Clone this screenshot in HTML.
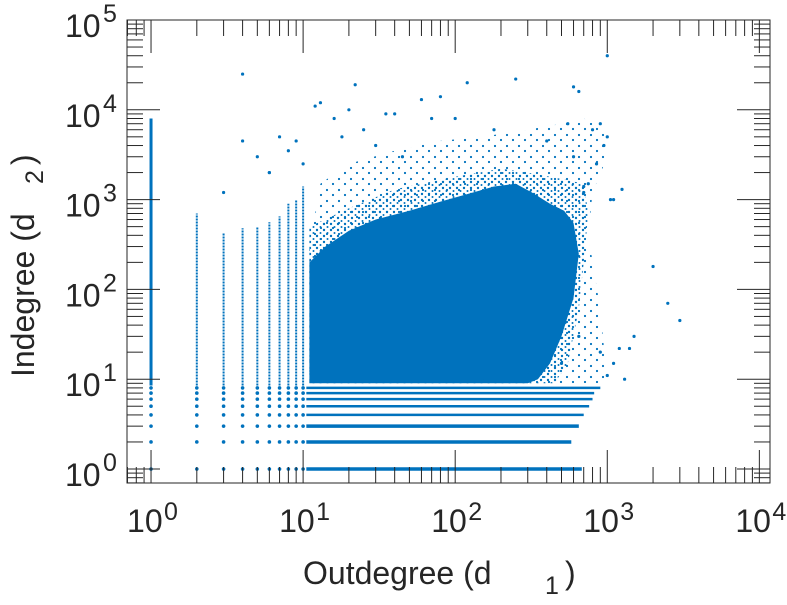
<!DOCTYPE html>
<html><head><meta charset="utf-8"><style>
body{margin:0;background:#fff;}
svg text{font-family:"Liberation Sans",sans-serif;fill:#262626;}
</style></head><body>
<svg id="chart" width="787" height="600" viewBox="0 0 787 600">
<defs>
<pattern id="halo" width="7" height="6" patternUnits="userSpaceOnUse">
<circle cx="2" cy="2" r="1.2" fill="#0072bd"/><circle cx="5.5" cy="5" r="1" fill="#0072bd"/>
</pattern>
<pattern id="halo2" width="12" height="11" patternUnits="userSpaceOnUse">
<circle cx="3" cy="3" r="1.1" fill="#0072bd"/><circle cx="9" cy="8" r="1.1" fill="#0072bd"/>
</pattern>
</defs>
</svg>
<script>
const colX = [1,2,3,4,5,6,7,8,9,10];
const colYmax = [8000,700,420,480,500,560,650,900,1000,1400];
const rowY = [1,2,3,4,5,6,7,8];
const rowXmax = [680,580,650,700,760,800,820,900];
const outerX = [11,13,20,40,80,150,300,500,700,1000,1000,800,750,900,1000,800,600,11];
const outerY = [300,1500,2500,3500,4500,5000,6000,7000,8000,6000,3000,1200,400,60,9,9,9,9];
const haloX = [11,11,20,40,100,200,300,500,700,750,700,650,550,450,11];
const haloY = [9,500,800,1300,1800,2200,2000,1700,1500,700,200,60,15,9,9];
const blobX = [11,11,14,20,30,50,80,120,180,250,320,420,520,600,650,600,500,420,350,300];
const blobY = [9,200,300,450,600,750,950,1150,1400,1500,1200,900,750,550,250,80,30,15,10,9];
const outX = [4,22,13,12,20,35,60,80,120,250,600,900,1000,800,950,750,700,1100,1300,2000,3000,2500,1500,1400,1200,1000,900,500,300,200,150,45,30,25,8,7,9,10,16,18,40,70,100,180,400,550,650,5,6,1000,1050,850,600,700,1250,1100,650,3,4,6];
const outY = [25000,19000,12000,11000,10000,9000,13000,14000,20000,22000,18000,7000,5000,6000,4000,1500,1400,1000,10,180,45,70,30,22,22,11,20,15,12,14,10,3000,4000,6000,3500,5000,4500,2500,8000,5000,9000,8000,8000,6000,4500,7000,16000,3000,2000,40000,1000,2500,3000,1200,1300,15,30,1200,4500,2000];
const xTickLabels = ["0","1","2","3","4"];
const yTickLabels = ["0","1","2","3","4","5"];

const svg = document.getElementById('chart');
const NS = 'http://www.w3.org/2000/svg';
const L=127, R=770, T=20, B=483;
const xmin=-0.158, xmax=4.07, ymin=-0.156, ymax=5;
const sx = v => L + (Math.log10(v)-xmin)/(xmax-xmin)*(R-L);
const sy = v => B - (Math.log10(v)-ymin)/(ymax-ymin)*(B-T);
const C = '#0072bd';
function mk(tag, attrs, parent){const e=document.createElementNS(NS,tag);for(const k in attrs)e.setAttribute(k,attrs[k]);(parent||svg).appendChild(e);return e;}
function poly(xs,ys){return xs.map((x,i)=>(i?'L':'M')+sx(x).toFixed(1)+','+sy(ys[i]).toFixed(1)).join(' ')+'Z';}

const outer = mk('path',{d:poly(outerX,outerY),fill:'url(#halo2)'});


const halo = mk('path',{d:poly(haloX,haloY),fill:'url(#halo)'});


const blob = mk('path',{d:poly(blobX,blobY),fill:C});


colX.forEach((x,i)=>{
  const l = mk('line',{x1:sx(x),x2:sx(x),y1:sy(8.5),y2:sy(colYmax[i]),stroke:C,'stroke-width':i==0?3:2,'stroke-dasharray':i==0?'none':'2,1'});
  
  
  rowY.forEach(y=>{
    const c = mk('circle',{cx:sx(x),cy:sy(y),r:1.8,fill:C});
    
    
  });
});
rowY.forEach((y,i)=>{
  const l = mk('line',{x1:sx(10.5),x2:sx(rowXmax[i]),y1:sy(y),y2:sy(y),stroke:C,'stroke-width':i<3?3.5:2.5});
  
  
});
outX.forEach((x,i)=>{
  const c = mk('circle',{cx:sx(x),cy:sy(outY[i]),r:1.6,fill:C});
  
  
});
const box = mk('rect',{x:L,y:T,width:R-L,height:B-T,fill:'none',stroke:'#262626','stroke-width':1});


const tk = {stroke:'#262626','stroke-width':1};
for(let e=-1;e<=4;e++){for(let m=1;m<10;m++){const v=m*Math.pow(10,e);const lv=Math.log10(v);
  if(lv>=xmin&&lv<=xmax){const X=sx(v),len=m==1?33:16;
    const a=mk('line',Object.assign({x1:X,x2:X,y1:B,y2:B-len},tk));
    const b=mk('line',Object.assign({x1:X,x2:X,y1:T,y2:T+len},tk));}
  if(lv>=ymin&&lv<=ymax){const Y=sy(v),len=m==1?33:16;
    const a=mk('line',Object.assign({x1:L,x2:L+len,y1:Y,y2:Y},tk));
    const b=mk('line',Object.assign({x1:R,x2:R-len,y1:Y,y2:Y},tk));}
}}
xTickLabels.forEach(s=>{
  const X=sx(Math.pow(10,+s));
  const t=mk('text',{x:X-24,y:532,'font-size':32});
  t.textContent='10';
  
  const u=mk('text',{x:X+13,y:520,'font-size':25});u.textContent=s;
  
});
yTickLabels.forEach(s=>{
  const Y=sy(Math.pow(10,+s));
  const t=mk('text',{x:65,y:Y+17,'font-size':32});t.textContent='10';
  
  const u=mk('text',{x:103,y:Y+2,'font-size':25});u.textContent=s;
  
});
const xt=mk('text',{x:303,y:584,'font-size':32});xt.textContent='Outdegree (d';

const xs=mk('text',{x:545,y:594,'font-size':25});xs.textContent='1';

const xp=mk('text',{x:565,y:584,'font-size':32});xp.textContent=')';

const g=mk('g',{transform:'translate(34,377) rotate(-90)'});

const yt=mk('text',{'font-size':32},g);yt.textContent='Indegree (d';

const ys=mk('text',{x:193,y:9,'font-size':25},g);ys.textContent='2';

const yp=mk('text',{x:212,'font-size':32},g);yp.textContent=')';

</script>
</body></html>
